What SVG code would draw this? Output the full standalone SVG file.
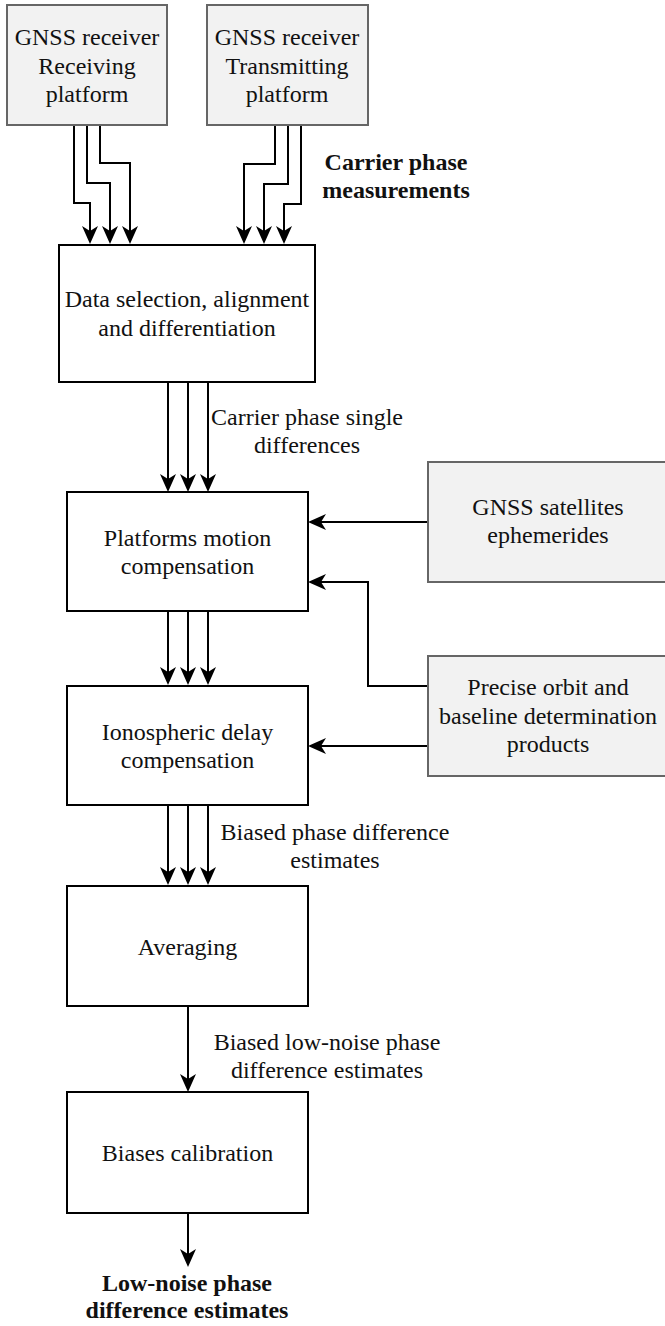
<svg xmlns="http://www.w3.org/2000/svg" width="665" height="1326" viewBox="0 0 665 1326">
<style>
.gray{fill:#f2f2f2;stroke:#666666;stroke-width:2}
.box{fill:#ffffff;stroke:#000000;stroke-width:2}
text{font-family:"Liberation Serif","Times New Roman",serif;font-size:24px;fill:#111111;text-anchor:middle}
.b{font-weight:bold}
.c{fill:none;stroke:#000000;stroke-width:2;marker-end:url(#arr)}
</style>
<defs>
<marker id="arr" markerUnits="userSpaceOnUse" markerWidth="20" markerHeight="18" refX="5" refY="8" orient="auto" overflow="visible">
<path d="M0,0 L18,8 L0,16 L5,8 Z" fill="#000000"/>
</marker>
</defs>
<rect width="665" height="1326" fill="#ffffff"/>
<g id="connectors">
<path class="c" d="M74,125 V203 H90 V231"/>
<path class="c" d="M87,125 V183 H110 V231"/>
<path class="c" d="M100,125 V163 H130 V231"/>
<path class="c" d="M275,125 V164 H244 V231"/>
<path class="c" d="M288,125 V184 H264 V231"/>
<path class="c" d="M301,125 V204 H284 V231"/>
<path class="c" d="M168,382 V479"/>
<path class="c" d="M188,382 V479"/>
<path class="c" d="M208,382 V479"/>
<path class="c" d="M168,611 V672"/>
<path class="c" d="M188,611 V672"/>
<path class="c" d="M208,611 V672"/>
<path class="c" d="M168,805 V872"/>
<path class="c" d="M188,805 V872"/>
<path class="c" d="M208,805 V872"/>
<path class="c" d="M188,1006 V1079"/>
<path class="c" d="M188,1213 V1254"/>
<path class="c" d="M428,522 H321"/>
<path class="c" d="M428,686 H368 V582 H321"/>
<path class="c" d="M428,746 H321"/>
<text class="b" x="396" y="170">Carrier phase</text>
<text class="b" x="396" y="198">measurements</text>
<text x="307" y="425">Carrier phase single</text>
<text x="307" y="453">differences</text>
<text x="335" y="840">Biased phase difference</text>
<text x="335" y="868">estimates</text>
<text x="327" y="1050">Biased low-noise phase</text>
<text x="327" y="1078">difference estimates</text>
<text class="b" x="187" y="1291">Low-noise phase</text>
<text class="b" x="187" y="1318">difference estimates</text>
</g>
<g id="rx">
<rect class="gray" x="7" y="5" width="160" height="120"/>
<text x="87" y="45">GNSS receiver</text>
<text x="87" y="74">Receiving</text>
<text x="87" y="102">platform</text>
</g>
<g id="tx">
<rect class="gray" x="207" y="5" width="161" height="120"/>
<text x="287" y="45">GNSS receiver</text>
<text x="287" y="74">Transmitting</text>
<text x="287" y="102">platform</text>
</g>
<g id="datasel">
<rect class="box" x="59" y="245" width="256" height="137"/>
<text x="187" y="307">Data selection, alignment</text>
<text x="187" y="336">and differentiation</text>
</g>
<g id="motion">
<rect class="box" x="67" y="492" width="241" height="119"/>
<text x="187.5" y="546">Platforms motion</text>
<text x="187.5" y="574">compensation</text>
</g>
<g id="iono">
<rect class="box" x="67" y="686" width="241" height="119"/>
<text x="187.5" y="740">Ionospheric delay</text>
<text x="187.5" y="768">compensation</text>
</g>
<g id="avg">
<rect class="box" x="67" y="886" width="241" height="120"/>
<text x="187.5" y="955">Averaging</text>
</g>
<g id="bias">
<rect class="box" x="67" y="1092" width="241" height="121"/>
<text x="187.5" y="1161">Biases calibration</text>
</g>
<g id="ephem">
<rect class="gray" x="428" y="462" width="240" height="120"/>
<text x="548" y="515">GNSS satellites</text>
<text x="548" y="543">ephemerides</text>
</g>
<g id="precise">
<rect class="gray" x="428" y="656" width="240" height="120"/>
<text x="548" y="695">Precise orbit and</text>
<text x="548" y="724">baseline determination</text>
<text x="548" y="752">products</text>
</g>
</svg>
